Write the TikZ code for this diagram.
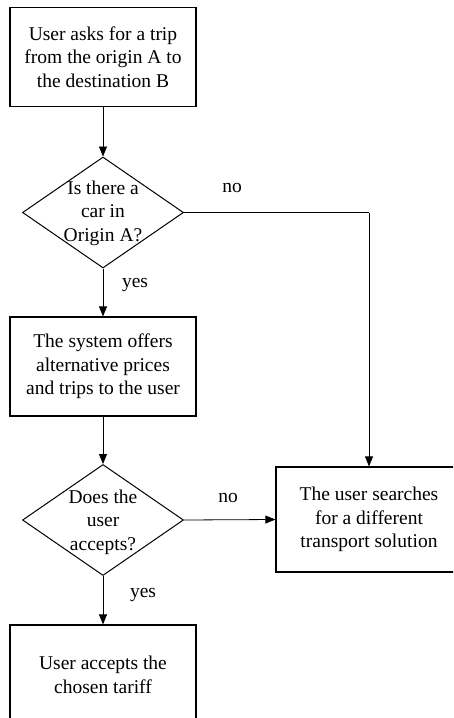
\documentclass[tikz,border=0pt]{standalone}
\usepackage{fontspec}
\setmainfont{Liberation Serif}
\usetikzlibrary{shapes.geometric,arrows.meta}
\begin{document}
\begin{tikzpicture}[x=1pt,y=-1pt,
  every node/.style={font=\fontsize{19.5}{23.5}\selectfont},
  procbox/.style={draw,line width=1.2pt,minimum width=186pt,minimum height=99pt,inner sep=0pt,align=center},
  decision/.style={draw,diamond,line width=1pt,minimum width=161pt,minimum height=111pt,inner sep=0pt,aspect=1.45},
  dtext/.style={align=center,inner sep=0pt},
  conn/.style={line width=0.8pt,-{Triangle[length=10pt,width=8pt]}},
  plain/.style={line width=0.8pt},
  lbl/.style={inner sep=0pt}]
\useasboundingbox (0,0) rectangle (453,718);
\clip (0,0) rectangle (453,718);
\node[procbox] (b1) at (103,57) {User asks for a trip\\from the origin A to\\the destination B};
\node[decision] (d1) at (103,212.5) {};
\node[dtext] (t1) at (103,213) {Is there a\\car in\\Origin A?};
\node[procbox] (b2) at (103,366.5) {The system offers\\alternative prices\\and trips to the user};
\node[decision] (d2) at (103,520) {};
\node[dtext] (t2) at (103,522) {Does the\\user\\accepts?};
\node[procbox,minimum height=105pt] (b3) at (369,519.5) {The user searches\\for a different\\transport solution};
\node[procbox,minimum height=100pt] (b4) at (103,675) {User accepts the\\chosen tariff};
\coordinate (c1) at (369,212.5);
\draw[conn] (b1.south) -- (d1.north);
\draw[conn] (d1.south) -- (b2.north);
\draw[conn] (b2.south) -- (d2.north);
\draw[conn] (d2.south) -- (b4.north);
\draw[conn] (d2.east) -- (b3.west);
\draw[plain] (d1.east) -- (c1);
\draw[conn] (c1) -- (b3.north);
\node[lbl] (n1) at (232,188) {no};
\node[lbl] (y1) at (135,285) {yes};
\node[lbl] (n2) at (228,498) {no};
\node[lbl] (y2) at (143,595) {yes};
\end{tikzpicture}
\end{document}
